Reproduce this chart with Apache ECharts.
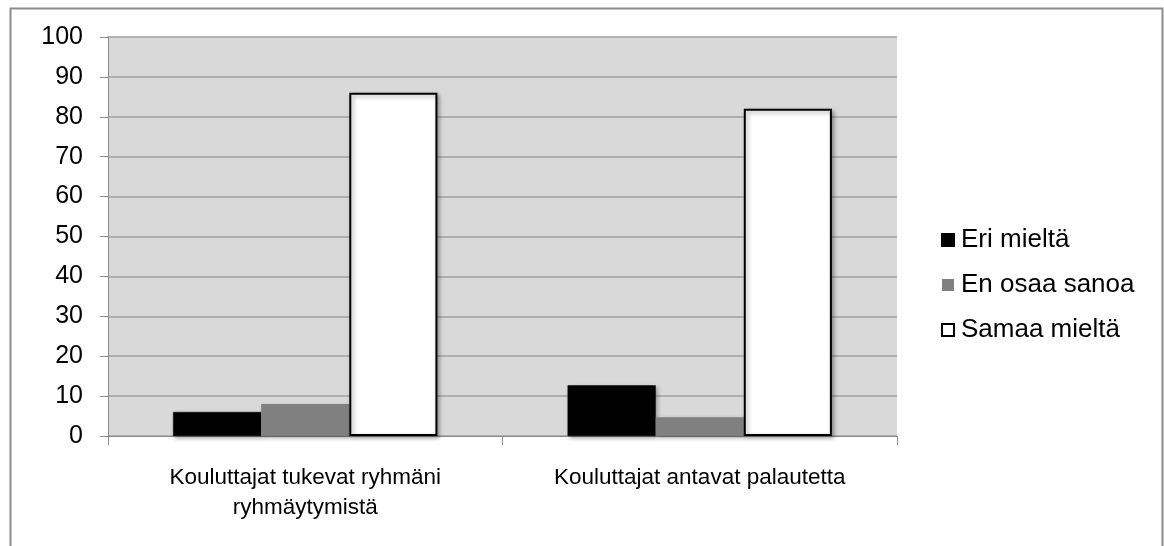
<!DOCTYPE html>
<html>
<head>
<meta charset="utf-8">
<script src="https://cdn.jsdelivr.net/npm/echarts@6/dist/echarts.min.js"></script>
<style>
  html, body { margin: 0; padding: 0; background: #fff; }
  #chart { width: 1164px; height: 546px; }
</style>
</head>
<body>
<div id="chart"></div>
<script>
// Data
const categories = ['Kouluttajat tukevat ryhmäni\nryhmäytymistä', 'Kouluttajat antavat palautetta'];
const seriesNames = ['Eri mieltä', 'En osaa sanoa', 'Samaa mieltä'];
const eriMielta = [6, 12.7];
const enOsaaSanoa = [8, 4.7];
const samaaMielta = [86, 82];
const yTicks = [0, 10, 20, 30, 40, 50, 60, 70, 80, 90, 100];

const font = '"Liberation Sans", Arial, sans-serif';
const barShadow = {
    shadowColor: 'rgba(0,0,0,0.35)',
    shadowBlur: 4,
    shadowOffsetX: 2,
    shadowOffsetY: 2
};

const myChart = echarts.init(document.getElementById('chart'), null, { renderer: 'canvas' });

const option = {
    backgroundColor: '#ffffff',
    animation: false,
    textStyle: { fontFamily: font, color: '#000' },
    graphic: [{
        type: 'rect',
        shape: { x: 10.5, y: 8.5, width: 1152, height: 560 },
        style: { fill: 'none', stroke: '#8c8c8c', lineWidth: 2 },
        silent: true,
        z: -1
    }],
    grid: {
        left: 108,
        top: 37,
        right: 267,
        bottom: 110,
        show: true,
        backgroundColor: '#d9d9d9',
        borderWidth: 0
    },
    legend: {
        orient: 'vertical',
        left: 936,
        top: 222,
        itemWidth: 12,
        itemHeight: 12,
        itemGap: 19,
        icon: 'rect',
        textStyle: { fontFamily: font, fontSize: 26, color: '#000', padding: [0, 0, 0, 2] },
        data: seriesNames
    },
    xAxis: {
        type: 'category',
        data: categories,
        axisLine: { lineStyle: { color: '#8a8a8a', width: 1 } },
        axisTick: { show: true, length: 9, lineStyle: { color: '#8a8a8a' } },
        axisLabel: {
            margin: 27,
            fontFamily: font,
            fontSize: 22.5,
            color: '#000',
            lineHeight: 30,
            interval: 0
        }
    },
    yAxis: {
        type: 'value',
        min: 0,
        max: 100,
        interval: 10,
        axisLine: { show: true, lineStyle: { color: '#8a8a8a', width: 1 } },
        axisTick: { show: true, length: 8, lineStyle: { color: '#8a8a8a' } },
        axisLabel: {
            margin: 25,
            fontFamily: font,
            fontSize: 25,
            color: '#000',
            formatter: v => (yTicks.indexOf(v) >= 0 ? String(v) : '')
        },
        splitLine: { show: true, lineStyle: { color: '#a0a0a0', width: 1.5 } }
    },
    series: [
        {
            name: seriesNames[0],
            type: 'bar',
            data: eriMielta,
            barGap: '0%',
            barCategoryGap: '33%',
            itemStyle: Object.assign({ color: '#000000', borderColor: '#000', borderWidth: 0.5 }, barShadow)
        },
        {
            name: seriesNames[1],
            type: 'bar',
            data: enOsaaSanoa,
            itemStyle: Object.assign({ color: '#808080', borderWidth: 0 }, barShadow)
        },
        {
            name: seriesNames[2],
            type: 'bar',
            data: samaaMielta,
            itemStyle: Object.assign({ color: '#ffffff', borderColor: '#000', borderWidth: 2 }, barShadow)
        }
    ]
};

myChart.setOption(option, true);
window.onresize = function() {
    myChart.resize();
};
</script>
</body>
</html>
